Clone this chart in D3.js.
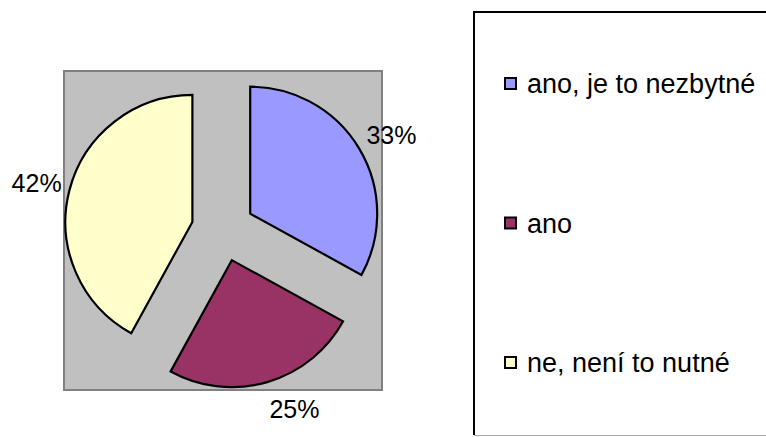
<!DOCTYPE html>
<html>
<head>
<meta charset="utf-8">
<script src="https://cdn.jsdelivr.net/npm/d3@7/dist/d3.min.js"></script>
<style>
  html, body { margin: 0; padding: 0; background: #ffffff; }
  svg { display: block; }
  text { font-family: "Liberation Sans", Arial, sans-serif; fill: #000; }
</style>
</head>
<body>
<svg id="chart" width="766" height="437"></svg>
<script>
// Survey answers and their shares (percent)
const categories = ["ano, je to nezbytné", "ano", "ne, není to nutné"];
const shares = [33, 25, 42];
const colors = ["#9999FF", "#993366", "#FFFFCC"];

const svg = d3.select("#chart");

// Plot area (grey square behind the pie)
const plot = { x: 64, y: 71, w: 318, h: 319 };
const cx = plot.x + plot.w / 2;
const cy = plot.y + plot.h / 2 - 0.7;
const radius = 127;
const explode = 31.6;
const labelGap = 8;

svg.append("rect")
  .attr("x", plot.x).attr("y", plot.y)
  .attr("width", plot.w).attr("height", plot.h)
  .attr("fill", "#C0C0C0")
  .attr("stroke", "#808080")
  .attr("stroke-width", 2);

const pie = d3.pie().sort(null).value(d => d)(shares);
const arc = d3.arc().innerRadius(0).outerRadius(radius);
const mid = d => (d.startAngle + d.endAngle) / 2;

const g = svg.append("g").attr("transform", `translate(${cx},${cy})`);

// Exploded slices: each one pushed out along its bisector
g.selectAll("path.slice")
  .data(pie)
  .join("path")
  .attr("class", "slice")
  .attr("d", arc)
  .attr("transform", d => `translate(${explode * Math.sin(mid(d))},${-explode * Math.cos(mid(d))})`)
  .attr("fill", (d, i) => colors[i])
  .attr("stroke", "#000")
  .attr("stroke-width", 2.2)
  .attr("stroke-linejoin", "miter");

// Percentage labels: the text box sits just outside the slice edge,
// on the side its bisector points to
const labelR = radius + explode + labelGap;
const labels = g.selectAll("text.pct")
  .data(pie)
  .join("text")
  .attr("class", "pct")
  .attr("text-anchor", "middle")
  .attr("dominant-baseline", "central")
  .attr("font-size", 25)
  .text(d => d.data + "%");

labels.each(function(d) {
  const box = this.getBBox();
  const s = Math.sin(mid(d)), c = Math.cos(mid(d));
  const px = labelR * s, py = -labelR * c;
  const dx = Math.abs(s) > 0.25 ? Math.sign(s) * box.width / 2 : 0;
  const dy = -c * 20;
  d3.select(this).attr("x", px + dx).attr("y", py + dy);
});

// Legend box
const legend = { x: 474, y: 12, bottom: 435 };
svg.append("line")
  .attr("x1", legend.x).attr("y1", legend.y)
  .attr("x2", 770).attr("y2", legend.y)
  .attr("stroke", "#000").attr("stroke-width", 2);
svg.append("line")
  .attr("x1", legend.x).attr("y1", legend.y - 1)
  .attr("x2", legend.x).attr("y2", legend.bottom)
  .attr("stroke", "#000").attr("stroke-width", 2);
svg.append("line")
  .attr("x1", legend.x).attr("y1", legend.bottom + 0.5)
  .attr("x2", 770).attr("y2", legend.bottom + 0.5)
  .attr("stroke", "#A8A8A8").attr("stroke-width", 1);

const itemY = d3.scalePoint().domain(categories).range([93, 372]);

const items = svg.selectAll("g.item")
  .data(categories)
  .join("g")
  .attr("class", "item")
  .attr("transform", d => `translate(0,${itemY(d)})`);

items.append("rect")
  .attr("x", 505).attr("y", -15)
  .attr("width", 11).attr("height", 11)
  .attr("fill", (d, i) => colors[i])
  .attr("stroke", "#000")
  .attr("stroke-width", 2);

items.append("text")
  .attr("x", 527).attr("y", 0)
  .attr("font-size", 27)
  .text(d => d);
</script>
</body>
</html>
